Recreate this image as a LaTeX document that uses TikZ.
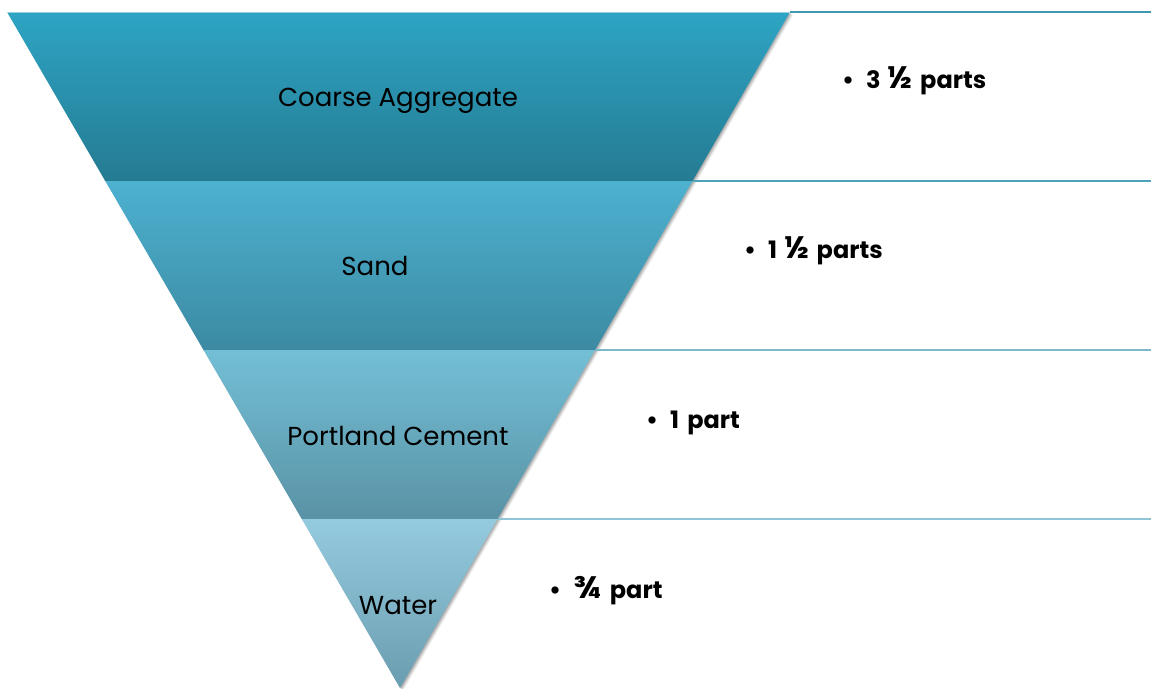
\documentclass[tikz,border=0pt]{standalone}
\usepackage{fontspec}
\setmainfont{Poppins}
\usetikzlibrary{calc}
\definecolor{cTop}{HTML}{2EA4C4}\definecolor{cBot}{HTML}{257B92}
\definecolor{sTop}{HTML}{4DB1D0}\definecolor{sBot}{HTML}{3C8AA2}
\definecolor{pTop}{HTML}{73BFD6}\definecolor{pBot}{HTML}{5A92A5}
\definecolor{wTop}{HTML}{95CBDF}\definecolor{wBot}{HTML}{6A9CAF}
\definecolor{lnA}{HTML}{3F98B0}\definecolor{lnB}{HTML}{4EA3BA}
\definecolor{lnC}{HTML}{7BB9CC}\definecolor{lnD}{HTML}{90C5D5}
\newcommand{\bul}{\textbullet\hspace{12pt}}
\newcommand{\bigfrac}[1]{{\fontsize{31}{31}\selectfont #1}}
\tikzset{
  lvltext/.style={font=\fontsize{26}{30}\selectfont, text=black, inner sep=0pt, anchor=base},
  parttext/.style={font=\fontsize{24}{28}\selectfont\bfseries, text=black, anchor=base west, inner sep=0pt},
  sepline/.style={line width=2.4pt},
}
\begin{document}
\begin{tikzpicture}[x=1pt,y=-1pt]
\useasboundingbox (0,0) rectangle (1151,688);
\coordinate (tl) at (7,12);
\coordinate (tr) at (790,12);
\coordinate (ap) at (400,688);
\coordinate (l1) at ($(tl)!0.25!(ap)$);
\coordinate (r1) at ($(tr)!0.25!(ap)$);
\coordinate (l2) at ($(tl)!0.5!(ap)$);
\coordinate (r2) at ($(tr)!0.5!(ap)$);
\coordinate (l3) at ($(tl)!0.75!(ap)$);
\coordinate (r3) at ($(tr)!0.75!(ap)$);
\coordinate (e0) at (1151,12);
\coordinate (e1) at (1151,181);
\coordinate (e2) at (1151,350);
\coordinate (e3) at (1151,519);
% soft shadow
\foreach \d/\o in {3/0.08,2/0.12,1/0.15}{
  \fill[black,opacity=\o] ($(tl)+(\d,\d)$) -- ($(tr)+(\d,\d)$) -- ($(ap)+(\d,\d)$) -- cycle;
}
% separator lines on the right
\draw[sepline,lnA] (tr) -- (e0);
\draw[sepline,lnB] (r1) -- (e1);
\draw[sepline,lnC] (r2) -- (e2);
\draw[sepline,lnD] (r3) -- (e3);
% bands
\shade[top color=cTop,bottom color=cBot] (tl) -- (tr) -- (r1) -- (l1) -- cycle;
\shade[top color=sTop,bottom color=sBot] (l1) -- (r1) -- (r2) -- (l2) -- cycle;
\shade[top color=pTop,bottom color=pBot] (l2) -- (r2) -- (r3) -- (l3) -- cycle;
\shade[top color=wTop,bottom color=wBot] (l3) -- (r3) -- (ap) -- cycle;
\draw[white,opacity=0.5,line width=0.8pt] (tl) -- (tr);
% labels
\node[lvltext] (coarse) at (398,106) {Coarse Aggregate};
\node[lvltext] (sand) at (375,275) {Sand};
\node[lvltext] (cement) at (398,445) {Portland Cement};
\node[lvltext] (water) at (398,614) {Water};
\node[parttext] (p1) at (842,88) {\bul 3\hspace{7pt}\bigfrac{½}\hspace{7pt}parts};
\node[parttext] (p2) at (744,258) {\bul 1\hspace{7pt}\bigfrac{½}\hspace{7pt}parts};
\node[parttext] (p3) at (646,428) {\bul 1\hspace{3pt} part};
\node[parttext] (p4) at (549,598) {\bul \bigfrac{¾}\hspace{4pt} part};
\end{tikzpicture}
\end{document}
